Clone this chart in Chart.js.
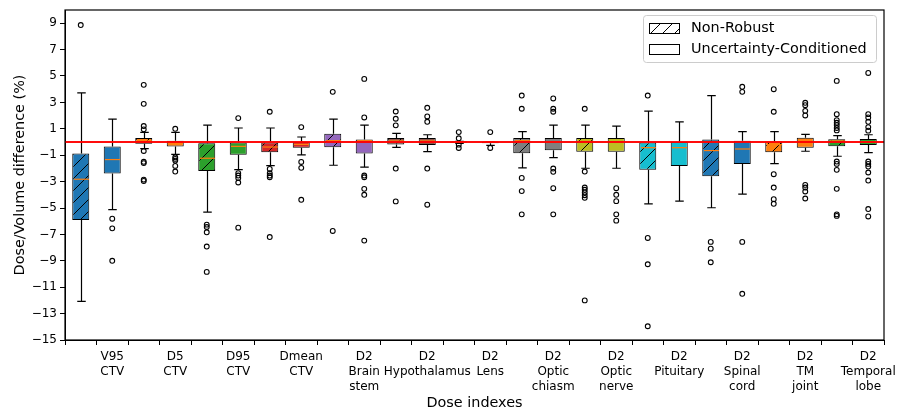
<!DOCTYPE html>
<html>
<head>
<meta charset="utf-8">
<script src="https://cdn.jsdelivr.net/npm/chart.js@4"></script>
<style>
  html, body { margin: 0; padding: 0; background: #fff; }
  canvas { display: block; }
</style>
</head>
<body>
<canvas id="boxChart" width="897" height="410"></canvas>
<script>
// Dose indexes (one tick label for every pair of boxes)
const categories = [
    ['V95', 'CTV'], ['D5', 'CTV'], ['D95', 'CTV'], ['Dmean', 'CTV'],
    ['D2', 'Brain', 'stem'], ['D2', 'Hypothalamus'], ['D2', 'Lens'],
    ['D2', 'Optic', 'chiasm'], ['D2', 'Optic', 'nerve'], ['D2', 'Pituitary'],
    ['D2', 'Spinal', 'cord'], ['D2', 'TM', 'joint'], ['D2', 'Temporal', 'lobe']
];
const groups = ['Non-Robust', 'Uncertainty-Conditioned'];
const yTicks = [-15, -13, -11, -9, -7, -5, -3, -1, 1, 3, 5, 7, 9];

// box statistics, order: [non-robust, uncertainty-conditioned] for each index
const whiskerHi = [3.72, 1.74, 0.73, 0.73, 1.28, 1.06, 1.06, 0.38, 1.74, 1.28, 0.65, 0.55, 0.05,
    0.03, 0.78, 1.28, 1.28, 1.21, 2.34, 1.53, 3.52, 0.78, 0.78, 0.58, 0.48, 0.55];
const q3 = [-0.88, -0.35, 0.30, 0.10, -0.10, -0.03, -0.03, 0.00, 0.63, 0.18, 0.30, 0.30, 0.03,
    0.00, 0.30, 0.30, 0.30, 0.30, -0.03, 0.00, 0.18, 0.10, 0.03, 0.33, 0.20, 0.23];
const medians = [-2.82, -1.33, 0.08, -0.10, -1.23, -0.33, -0.38, -0.18, 0.10, 0.10, 0.08, 0.08, 0.00,
    0.00, 0.10, 0.00, 0.05, 0.03, -0.43, -0.43, -0.65, -0.53, -0.20, 0.00, 0.08, 0.00];
const q1 = [-5.91, -2.39, -0.13, -0.35, -2.19, -0.96, -0.78, -0.43, -0.40, -0.88, -0.18, -0.23, -0.05,
    -0.10, -0.86, -0.63, -0.73, -0.73, -2.11, -1.81, -2.59, -1.66, -0.78, -0.43, -0.33, -0.23];
const whiskerLo = [-12.08, -5.13, -0.50, -0.93, -5.31, -2.09, -1.79, -0.98, -1.76, -1.91, -0.40, -0.73, -0.10,
    -0.25, -1.96, -1.18, -1.99, -1.99, -4.68, -4.48, -4.98, -3.95, -1.64, -0.70, -1.08, -0.80];
const outliers = [
    [8.86],
    [-5.81, -6.54, -9.0],
    [4.33, 2.89, 1.21, 0.96, -0.68, -1.5, -1.6, -2.85, -2.95],
    [1.0, -1.16, -1.28, -1.41, -1.81, -2.24],
    [-6.26, -6.44, -6.84, -7.92, -9.84],
    [1.81, -2.36, -2.54, -2.72, -3.07, -6.49],
    [2.29, -2.04, -2.36, -2.54, -2.67, -7.2],
    [1.13, -1.51, -1.96, -4.38],
    [3.8, -6.74],
    [4.78, 1.86, -2.54, -2.67, -3.55, -4.0, -7.47],
    [2.31, 1.76, 1.26, -2.01, -4.5],
    [2.59, 1.94, 1.53, -2.01, -4.75],
    [0.75, 0.28, -0.2, -0.45],
    [0.75, -0.45],
    [3.52, 2.52, -2.72, -3.72, -5.48],
    [3.3, 2.52, 2.29, -2.01, -2.26, -3.5, -5.48],
    [2.52, -2.24, -3.45, -3.62, -3.82, -4.03, -4.23, -12.0],
    [-3.5, -4.0, -4.48, -5.48, -5.96],
    [3.52, -7.27, -9.26, -13.96],
    [],
    [-7.57, -8.08, -9.11],
    [4.18, 3.8, -7.57, -11.5],
    [4.0, 2.29, -2.44, -3.45, -4.33, -4.68],
    [2.97, 2.79, 2.36, 2.01, -3.25, -3.45, -3.75, -4.28],
    [4.63, 2.11, 1.66, 1.46, 1.28, 1.06, 0.88, -1.48, -1.66, -2.11, -3.55, -5.48, -5.6],
    [5.23, 2.11, 1.86, 1.53, 1.13, 0.86, -1.48, -1.66, -1.86, -2.31, -2.92, -5.08, -5.64]
];

// matplotlib tab10 colours, one per dose index
const palette = ['#1f77b4', '#ff7f0e', '#2ca02c', '#d62728', '#9467bd', '#8c564b',
    '#e377c2', '#7f7f7f', '#bcbd22', '#17becf'];

const FONT = 'DejaVu Sans';
const LABEL_SIZE = 14.4;   // axis titles + legend
const TICK_SIZE = 12;      // tick labels

// hatch pattern like matplotlib '/'
function makeHatch(color) {
    const size = 12;
    const c = document.createElement('canvas');
    c.width = size;
    c.height = size;
    const g = c.getContext('2d');
    g.fillStyle = color;
    g.fillRect(0, 0, size, size);
    g.strokeStyle = '#000';
    g.lineWidth = 1;
    g.beginPath();
    g.moveTo(0, size); g.lineTo(size, 0);
    g.moveTo(-2, 2); g.lineTo(2, -2);
    g.moveTo(size - 2, size + 2); g.lineTo(size + 2, size - 2);
    g.stroke();
    return g.createPattern(c, 'repeat');
}

// one slot per box
const ids = q1.map((v, i) => 'b' + i);
const tickText = ids.map((id, i) => (i % 2 === 1 ? categories[(i - 1) / 2] : ''));
const fills = ids.map((id, i) => {
    const col = palette[Math.floor(i / 2) % palette.length];
    return i % 2 === 0 ? makeHatch(col) : col;
});
const flierPoints = [];
outliers.forEach((vals, i) => vals.forEach(v => flierPoints.push({ x: ids[i], y: v })));

// whiskers, medians, zero line, frame and legend
const boxExtras = {
    id: 'boxExtras',
    afterDatasetsDraw(chart) {
        const { ctx, chartArea: a, scales: { x, y } } = chart;
        const bars = chart.getDatasetMeta(0).data;
        ctx.save();
        ctx.lineWidth = 1.2;
        bars.forEach((bar, i) => {
            const cx = Math.round(x.getPixelForValue(i)) + 0.5;
            const half = bar.width / 2;
            const cap = half / 2;
            ctx.strokeStyle = '#000';
            ctx.beginPath();
            ctx.moveTo(cx, y.getPixelForValue(q3[i]));
            ctx.lineTo(cx, y.getPixelForValue(whiskerHi[i]));
            ctx.moveTo(cx - cap, y.getPixelForValue(whiskerHi[i]));
            ctx.lineTo(cx + cap, y.getPixelForValue(whiskerHi[i]));
            ctx.moveTo(cx, y.getPixelForValue(q1[i]));
            ctx.lineTo(cx, y.getPixelForValue(whiskerLo[i]));
            ctx.moveTo(cx - cap, y.getPixelForValue(whiskerLo[i]));
            ctx.lineTo(cx + cap, y.getPixelForValue(whiskerLo[i]));
            ctx.stroke();
            ctx.strokeStyle = '#ff7f0e';
            ctx.beginPath();
            ctx.moveTo(cx - half + 1, y.getPixelForValue(medians[i]));
            ctx.lineTo(cx + half - 1, y.getPixelForValue(medians[i]));
            ctx.stroke();
        });

        // red reference line at 0
        const y0 = y.getPixelForValue(0);
        ctx.strokeStyle = 'rgba(255,0,0,0.95)';
        ctx.lineWidth = 2;
        ctx.beginPath();
        ctx.moveTo(a.left, y0);
        ctx.lineTo(a.right, y0);
        ctx.stroke();

        // axes frame
        ctx.strokeStyle = '#000';
        ctx.lineWidth = 1.2;
        ctx.strokeRect(a.left, a.top, a.right - a.left, a.bottom - a.top);

        // legend box
        const lx = a.right - 241, ly = a.top + 5, lw = 233, lh = 47;
        ctx.fillStyle = 'rgba(255,255,255,0.8)';
        ctx.strokeStyle = '#cccccc';
        ctx.lineWidth = 1;
        ctx.beginPath();
        ctx.roundRect(lx + 0.5, ly + 0.5, lw, lh, 3);
        ctx.fill();
        ctx.stroke();
        const patches = [makeHatch('#ffffff'), '#ffffff'];
        groups.forEach((name, k) => {
            const py = ly + 8 + k * 21;
            ctx.fillStyle = patches[k];
            ctx.fillRect(lx + 6, py, 30, 10);
            ctx.strokeStyle = '#000';
            ctx.strokeRect(lx + 6.5, py + 0.5, 30, 10);
            ctx.fillStyle = '#000';
            ctx.font = LABEL_SIZE + 'px "' + FONT + '"';
            ctx.textBaseline = 'middle';
            ctx.textAlign = 'left';
            ctx.fillText(name, lx + 48, py + 5.5);
        });
        ctx.restore();
    }
};

const ctx = document.getElementById('boxChart').getContext('2d');
const boxChart = new Chart(ctx, {
    type: 'bar',
    data: {
        labels: ids,
        datasets: [
            {
                type: 'bar',
                label: 'boxes',
                data: q1.map((v, i) => [v, q3[i]]),
                backgroundColor: fills,
                borderColor: '#000',
                borderWidth: 1,
                borderSkipped: false,
                barPercentage: 0.54,
                categoryPercentage: 1
            },
            {
                type: 'scatter',
                label: 'outliers',
                data: flierPoints,
                pointStyle: 'circle',
                pointRadius: 2.4,
                pointBorderWidth: 1.1,
                pointBackgroundColor: 'rgba(0,0,0,0)',
                pointBorderColor: '#000',
                showLine: false
            }
        ]
    },
    options: {
        responsive: false,
        animation: false,
        devicePixelRatio: 1,
        layout: { padding: { top: 10, right: 13, left: 0, bottom: 0 } },
        plugins: {
            legend: { display: false },
            tooltip: { enabled: false }
        },
        scales: {
            x: {
                type: 'category',
                offset: true,
                grid: { drawOnChartArea: false, drawTicks: true, tickLength: 5, color: '#000' },
                border: { display: true, color: '#000', width: 1 },
                ticks: {
                    autoSkip: false,
                    maxRotation: 0,
                    minRotation: 0,
                    padding: 4,
                    color: '#000',
                    font: { family: FONT, size: TICK_SIZE, lineHeight: 1.25 },
                    callback: (v, i) => tickText[i]
                },
                title: {
                    display: true,
                    text: 'Dose indexes',
                    color: '#000',
                    font: { family: FONT, size: LABEL_SIZE, lineHeight: 1 },
                    padding: { top: 0, bottom: 0 }
                },
                afterFit: scale => {
                    scale.height = 70;
                    scale.paddingLeft = 0;
                    scale.paddingRight = 0;
                }
            },
            y: {
                type: 'linear',
                min: -15,
                max: 10,
                grid: { drawOnChartArea: false, drawTicks: true, tickLength: 5, color: '#000' },
                border: { display: true, color: '#000', width: 1 },
                afterBuildTicks: scale => {
                    scale.ticks = yTicks.map(v => ({ value: v }));
                },
                ticks: {
                    padding: 3,
                    color: '#000',
                    font: { family: FONT, size: TICK_SIZE },
                    callback: v => String(v).replace('-', '\u2212')
                },
                title: {
                    display: true,
                    text: 'Dose/Volume difference (%)',
                    color: '#000',
                    font: { family: FONT, size: LABEL_SIZE },
                    padding: { top: 12, bottom: 0 }
                },
                afterFit: scale => {
                    scale.width = 65;
                    scale.paddingTop = 0;
                    scale.paddingBottom = 0;
                }
            }
        }
    },
    plugins: [boxExtras]
});
</script>
</body>
</html>
